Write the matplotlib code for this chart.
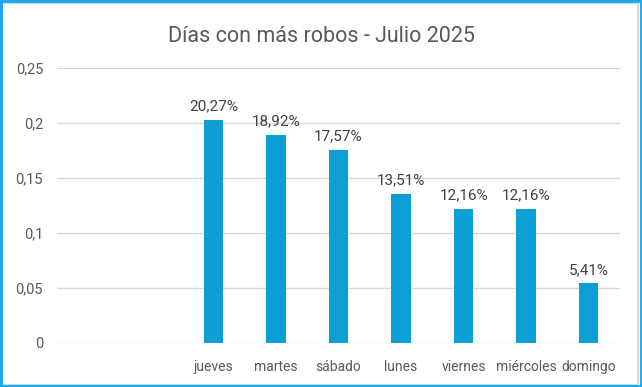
import matplotlib.pyplot as plt
from matplotlib.patches import Rectangle
from matplotlib.ticker import FixedLocator

plt.rcParams['font.family'] = ['Roboto', 'DejaVu Sans']

# datos
dias = ['', '', 'jueves', 'martes', 'sábado', 'lunes', 'viernes', 'miércoles', 'domingo']
valores = [None, None, 0.2027, 0.1892, 0.1757, 0.1351, 0.1216, 0.1216, 0.0541]
etiquetas = ['', '', '20,27%', '18,92%', '17,57%', '13,51%', '12,16%', '12,16%', '5,41%']
ticks_y = [0, 0.05, 0.1, 0.15, 0.2, 0.25]
ticks_y_txt = ['0', '0,05', '0,1', '0,15', '0,2', '0,25']

fig = plt.figure(figsize=(6.42, 3.87), dpi=100)
ax = fig.add_axes([57 / 642, 44 / 387, 563 / 642, 275 / 387])

x = list(range(len(dias)))
alturas = [v if v is not None else 0 for v in valores]
barras = ax.bar(x, alturas, width=0.31, color='#0E9ED6', zorder=3)
for b, v, t in zip(barras, valores, etiquetas):
    if v is None:
        b.set_visible(False)
        continue
    ax.text(b.get_x() + b.get_width() / 2, v + 0.006, t, ha='center', va='bottom',
            fontsize=11, color='#404040')

ax.set_xlim(-0.5, len(dias) - 0.5)
ax.set_ylim(0, 0.25)
ax.set_xticks(x)
ax.set_xticklabels(dias, fontsize=10, color='#595959')
ax.yaxis.set_major_locator(FixedLocator(ticks_y))
ax.set_yticklabels(ticks_y_txt, fontsize=10.5, color='#595959')
ax.tick_params(length=0)
ax.tick_params(axis='y', pad=10)
ax.tick_params(axis='x', pad=12)
ax.grid(axis='y', color='#D9D9D9', linewidth=1, zorder=0)
for s in ax.spines.values():
    s.set_visible(False)

fig.text(0.5, 1 - 37 / 387, 'Días con más robos - Julio 2025', ha='center', va='center',
         fontsize=15.5, color='#595959')

# marco
fig.patches.append(Rectangle((2 / 642, 2 / 387), 636 / 642, 382 / 387, transform=fig.transFigure,
                             fill=False, edgecolor='#D0D0D0', linewidth=1.2))
fig.patches.append(Rectangle((0, 0), 1, 1, transform=fig.transFigure,
                             fill=False, edgecolor='#1AA7EC', linewidth=3.5))

fig.savefig('out.png', dpi=100)
